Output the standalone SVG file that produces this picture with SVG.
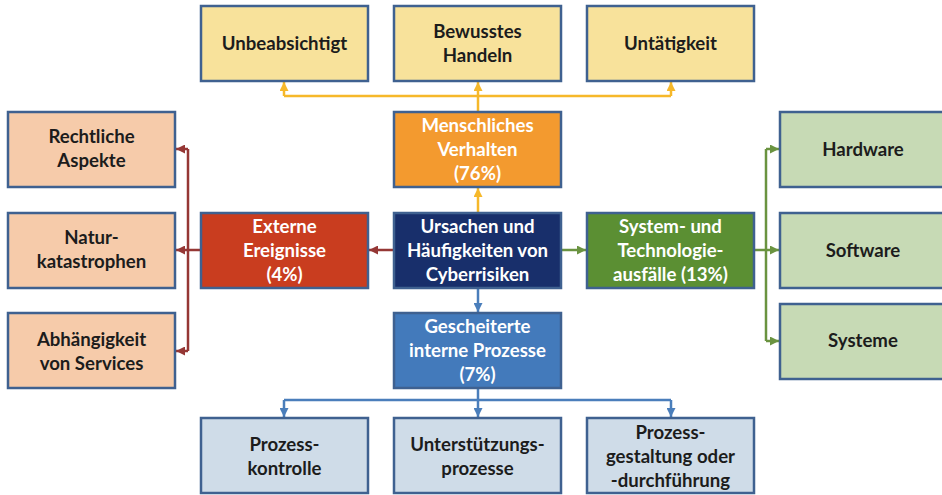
<svg xmlns="http://www.w3.org/2000/svg" width="942" height="495" viewBox="0 0 942 495">
<style>
.b{stroke:#3f6190;stroke-width:2.5}
.t{font-family:Lato,"Liberation Sans",sans-serif;font-weight:bold;font-size:18.6px;text-anchor:middle;fill:#1c1c1c}
.w{fill:#ffffff}
.yl{fill:#f8e29b}.or{fill:#f39a2f}.pe{fill:#f6cbaa}.rd{fill:#c93d1f}.nv{fill:#182f6b}.gr{fill:#5b8f33}.lg{fill:#c7dab5}.bl{fill:#437abb}.lb{fill:#cfdce8}
.c{fill:none;stroke-width:2.5}
.cy{stroke:#f6b82a}.cr{stroke:#953735}.cg{stroke:#6a9340}.cb{stroke:#4a7ebb}
</style>
<defs>
<marker id="ay" viewBox="0 0 10 10" refX="10" refY="5" markerWidth="9" markerHeight="9" markerUnits="userSpaceOnUse" orient="auto"><path d="M0,0 L10,5 L0,10 z" fill="#f6b82a"/></marker>
<marker id="ar" viewBox="0 0 10 10" refX="10" refY="5" markerWidth="9" markerHeight="9" markerUnits="userSpaceOnUse" orient="auto"><path d="M0,0 L10,5 L0,10 z" fill="#953735"/></marker>
<marker id="ag" viewBox="0 0 10 10" refX="10" refY="5" markerWidth="9" markerHeight="9" markerUnits="userSpaceOnUse" orient="auto"><path d="M0,0 L10,5 L0,10 z" fill="#6a9340"/></marker>
<marker id="ab" viewBox="0 0 10 10" refX="10" refY="5" markerWidth="9" markerHeight="9" markerUnits="userSpaceOnUse" orient="auto"><path d="M0,0 L10,5 L0,10 z" fill="#4a7ebb"/></marker>
</defs>
<rect width="942" height="495" fill="#ffffff"/>
<g id="connectors">
<path class="c cy" d="M478,212 V188" marker-end="url(#ay)"/>
<path class="c cy" d="M478,111 V82" marker-end="url(#ay)"/>
<path class="c cy" d="M284,96 H671"/>
<path class="c cy" d="M284,96 V82" marker-end="url(#ay)"/>
<path class="c cy" d="M671,96 V82" marker-end="url(#ay)"/>
<path class="c cr" d="M394,250 H369" marker-end="url(#ar)"/>
<path class="c cr" d="M201,250 H176" marker-end="url(#ar)"/>
<path class="c cr" d="M188,149 V351"/>
<path class="c cr" d="M188,149 H176" marker-end="url(#ar)"/>
<path class="c cr" d="M188,351 H176" marker-end="url(#ar)"/>
<path class="c cg" d="M561,250 H586" marker-end="url(#ag)"/>
<path class="c cg" d="M754,250 H779" marker-end="url(#ag)"/>
<path class="c cg" d="M766,149 V341"/>
<path class="c cg" d="M766,149 H779" marker-end="url(#ag)"/>
<path class="c cg" d="M766,341 H779" marker-end="url(#ag)"/>
<path class="c cb" d="M478,288 V312" marker-end="url(#ab)"/>
<path class="c cb" d="M478,388 V417" marker-end="url(#ab)"/>
<path class="c cb" d="M284,400 H671"/>
<path class="c cb" d="M284,400 V417" marker-end="url(#ab)"/>
<path class="c cb" d="M671,400 V417" marker-end="url(#ab)"/>
</g>
<g id="unbeabsichtigt"><rect class="b yl" x="201" y="6" width="167" height="75"/><text class="t" x="284.5" y="50">Unbeabsichtigt</text></g>
<g id="bewusstes"><rect class="b yl" x="394" y="6" width="167" height="75"/><text class="t" x="477.5" y="38">Bewusstes</text><text class="t" x="477.5" y="62">Handeln</text></g>
<g id="untaetigkeit"><rect class="b yl" x="587" y="6" width="167" height="75"/><text class="t" x="670.5" y="50">Untätigkeit</text></g>
<g id="menschlich"><rect class="b or" x="394" y="112" width="167" height="75"/><text class="t w" x="477.5" y="132">Menschliches</text><text class="t w" x="477.5" y="156">Verhalten</text><text class="t w" x="477.5" y="180">(76%)</text></g>
<g id="ursachen"><rect class="b nv" x="394" y="213" width="167" height="75"/><text class="t w" x="477.5" y="233">Ursachen und</text><text class="t w" x="477.5" y="257">Häufigkeiten von</text><text class="t w" x="477.5" y="281">Cyberrisiken</text></g>
<g id="extern"><rect class="b rd" x="201" y="213" width="167" height="75"/><text class="t w" x="284.5" y="233">Externe</text><text class="t w" x="284.5" y="257">Ereignisse</text><text class="t w" x="284.5" y="281">(4%)</text></g>
<g id="system"><rect class="b gr" x="587" y="213" width="167" height="75"/><text class="t w" x="670.5" y="233">System- und</text><text class="t w" x="670.5" y="257">Technologie-</text><text class="t w" x="670.5" y="281">ausfälle (13%)</text></g>
<g id="gescheitert"><rect class="b bl" x="394" y="313" width="167" height="75"/><text class="t w" x="477.5" y="333">Gescheiterte</text><text class="t w" x="477.5" y="357">interne Prozesse</text><text class="t w" x="477.5" y="381">(7%)</text></g>
<g id="rechtlich"><rect class="b pe" x="8" y="112" width="167" height="75"/><text class="t" x="91.5" y="143">Rechtliche</text><text class="t" x="91.5" y="167">Aspekte</text></g>
<g id="natur"><rect class="b pe" x="8" y="213" width="167" height="75"/><text class="t" x="91.5" y="244">Natur-</text><text class="t" x="91.5" y="268">katastrophen</text></g>
<g id="abhaengig"><rect class="b pe" x="8" y="313" width="167" height="75"/><text class="t" x="91.5" y="346">Abhängigkeit</text><text class="t" x="91.5" y="370">von Services</text></g>
<g id="hardware"><rect class="b lg" x="780" y="112" width="167" height="75"/><text class="t" x="863" y="156">Hardware</text></g>
<g id="software"><rect class="b lg" x="780" y="213" width="167" height="75"/><text class="t" x="863" y="257">Software</text></g>
<g id="systeme"><rect class="b lg" x="780" y="304" width="167" height="75"/><text class="t" x="863" y="347">Systeme</text></g>
<g id="kontrolle"><rect class="b lb" x="201" y="418" width="167" height="75"/><text class="t" x="284.5" y="451">Prozess-</text><text class="t" x="284.5" y="475">kontrolle</text></g>
<g id="unterstuetzung"><rect class="b lb" x="394" y="418" width="167" height="75"/><text class="t" x="477.5" y="451">Unterstützungs-</text><text class="t" x="477.5" y="475">prozesse</text></g>
<g id="gestaltung"><rect class="b lb" x="587" y="418" width="167" height="75"/><text class="t" x="670.5" y="439">Prozess-</text><text class="t" x="670.5" y="463">gestaltung oder</text><text class="t" x="670.5" y="487">-durchführung</text></g>
</svg>
